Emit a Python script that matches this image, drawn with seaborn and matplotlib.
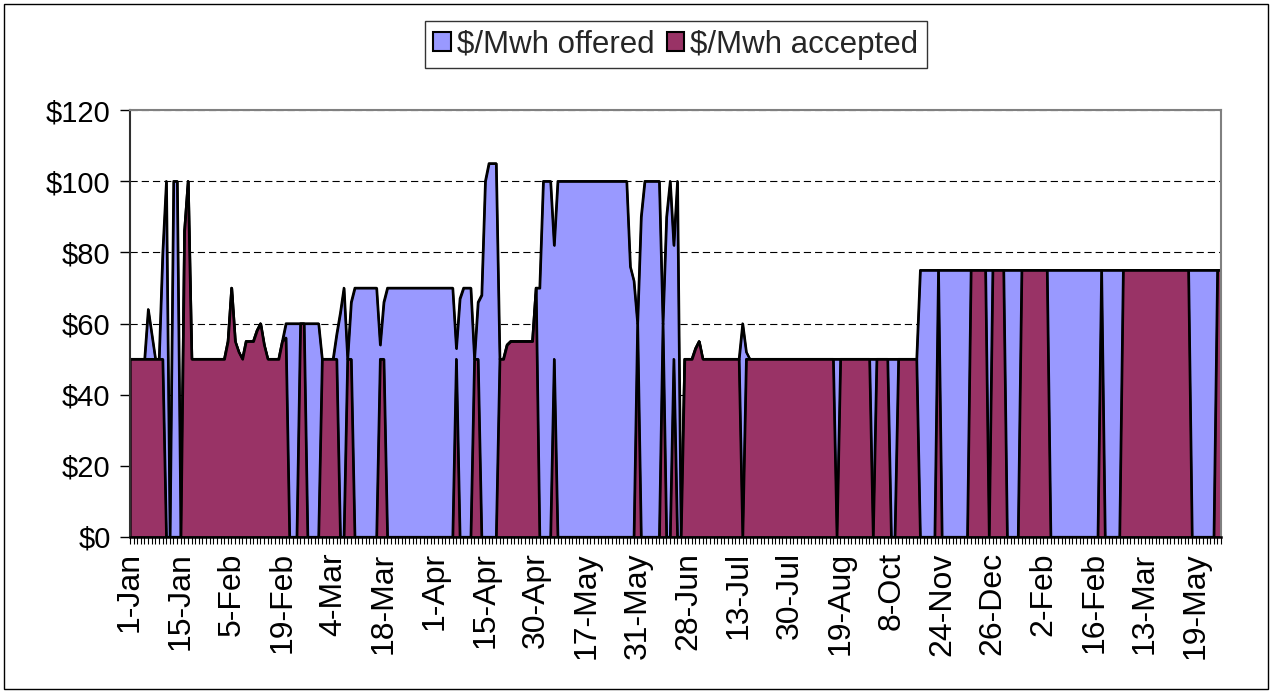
import matplotlib
matplotlib.use("Agg")
import matplotlib.pyplot as plt
from matplotlib.patches import Patch, Rectangle
import pandas as pd
import seaborn as sns

# category axis: one point per trading day, a label every 14 points
date_labels = ["1-Jan", "15-Jan", "5-Feb", "19-Feb", "4-Mar", "18-Mar", "1-Apr",
               "15-Apr", "30-Apr", "17-May", "31-May", "28-Jun", "13-Jul", "30-Jul",
               "19-Aug", "8-Oct", "24-Nov", "26-Dec", "2-Feb", "16-Feb", "13-Mar",
               "19-May"]
label_step = 14

# $/Mwh offered
offered = [
    50, 50, 50, 50, 50, 64, 57, 50, 50, 80,
    100, 0, 100, 100, 0, 86, 100, 50, 50, 50,
    50, 50, 50, 50, 50, 50, 50, 55, 70, 55,
    52, 50, 55, 55, 55, 58, 60, 54, 50, 50,
    50, 50, 55, 60, 60, 60, 60, 60, 60, 60,
    60, 60, 60, 50, 50, 50, 50, 57, 63, 70,
    50, 66, 70, 70, 70, 70, 70, 70, 70, 54,
    66, 70, 70, 70, 70, 70, 70, 70, 70, 70,
    70, 70, 70, 70, 70, 70, 70, 70, 70, 70,
    53, 67, 70, 70, 70, 50, 66, 68, 100, 105,
    105, 105, 50, 50, 54, 55, 55, 55, 55, 55,
    55, 55, 70, 70, 100, 100, 100, 82, 100, 100,
    100, 100, 100, 100, 100, 100, 100, 100, 100, 100,
    100, 100, 100, 100, 100, 100, 100, 100, 76, 72,
    60, 90, 100, 100, 100, 100, 100, 60, 90, 100,
    82, 100, 0, 50, 50, 50, 53, 55, 50, 50,
    50, 50, 50, 50, 50, 50, 50, 50, 50, 60,
    52, 50, 50, 50, 50, 50, 50, 50, 50, 50,
    50, 50, 50, 50, 50, 50, 50, 50, 50, 50,
    50, 50, 50, 50, 50, 50, 50, 50, 50, 50,
    50, 50, 50, 50, 50, 50, 50, 50, 50, 50,
    50, 50, 50, 50, 50, 50, 50, 50, 75, 75,
    75, 75, 75, 75, 75, 75, 75, 75, 75, 75,
    75, 75, 75, 75, 75, 75, 75, 75, 75, 75,
    75, 75, 75, 75, 75, 75, 75, 75, 75, 75,
    75, 75, 75, 75, 75, 75, 75, 75, 75, 75,
    75, 75, 75, 75, 75, 75, 75, 75, 75, 75,
    75, 75, 75, 75, 75, 75, 75, 75, 75, 75,
    75, 75, 75, 75, 75, 75, 75, 75, 75, 75,
    75, 75, 75, 75, 75, 75, 75, 75, 75, 75,
    75, 75,
]

# $/Mwh accepted
accepted = [
    50, 50, 50, 50, 50, 50, 50, 50, 50, 50,
    0, 0, 0, 0, 0, 86, 100, 50, 50, 50,
    50, 50, 50, 50, 50, 50, 50, 55, 70, 55,
    52, 50, 55, 55, 55, 58, 60, 54, 50, 50,
    50, 50, 55, 56, 0, 0, 0, 60, 60, 0,
    0, 0, 0, 50, 50, 50, 50, 50, 0, 0,
    50, 50, 0, 0, 0, 0, 0, 0, 0, 50,
    50, 0, 0, 0, 0, 0, 0, 0, 0, 0,
    0, 0, 0, 0, 0, 0, 0, 0, 0, 0,
    50, 0, 0, 0, 0, 50, 50, 0, 0, 0,
    0, 0, 50, 50, 54, 55, 55, 55, 55, 55,
    55, 55, 70, 0, 0, 0, 0, 50, 0, 0,
    0, 0, 0, 0, 0, 0, 0, 0, 0, 0,
    0, 0, 0, 0, 0, 0, 0, 0, 0, 0,
    60, 0, 0, 0, 0, 0, 0, 60, 0, 0,
    50, 0, 0, 50, 50, 50, 53, 55, 50, 50,
    50, 50, 50, 50, 50, 50, 50, 50, 50, 0,
    50, 50, 50, 50, 50, 50, 50, 50, 50, 50,
    50, 50, 50, 50, 50, 50, 50, 50, 50, 50,
    50, 50, 50, 50, 50, 0, 50, 50, 50, 50,
    50, 50, 50, 50, 50, 0, 50, 50, 50, 50,
    0, 0, 50, 50, 50, 50, 50, 50, 0, 0,
    0, 0, 0, 75, 0, 0, 0, 0, 0, 0,
    0, 0, 75, 75, 75, 75, 75, 0, 75, 75,
    75, 75, 0, 0, 0, 0, 75, 75, 75, 75,
    75, 75, 75, 75, 0, 0, 0, 0, 0, 0,
    0, 0, 0, 0, 0, 0, 0, 0, 75, 0,
    0, 0, 0, 0, 75, 75, 75, 75, 75, 75,
    75, 75, 75, 75, 75, 75, 75, 75, 75, 75,
    75, 75, 75, 0, 0, 0, 0, 0, 0, 0,
    75, 75,
]

y_ticks = [0, 20, 40, 60, 80, 100, 120]

OFFER_COLOR = "#9999FF"
ACCEPT_COLOR = "#993366"

df = pd.DataFrame({"day": range(len(offered)), "offered": offered, "accepted": accepted})

sns.set_theme(style="white")
plt.rcParams["font.family"] = ["Liberation Sans", "DejaVu Sans"]

W, H = 1272, 693
fig = plt.figure(figsize=(W / 100, H / 100), dpi=100)
ax = fig.add_axes([130 / W, 1 - 537 / H, (1221 - 130) / W, (537 - 110) / H])

# offered drawn first, accepted laid over it (Excel-style overlapping areas)
ax.fill_between(df["day"], 0, df["offered"], facecolor=OFFER_COLOR,
                edgecolor="black", linewidth=1.6, zorder=2)
sns.lineplot(data=df, x="day", y="offered", color="black", linewidth=1.6,
             ax=ax, zorder=3)
ax.fill_between(df["day"], 0, df["accepted"], facecolor=ACCEPT_COLOR,
                edgecolor="black", linewidth=1.6, zorder=4)
sns.lineplot(data=df, x="day", y="accepted", color="black", linewidth=1.6,
             ax=ax, zorder=5)

ax.set_xlim(0, len(df) - 1)
ax.set_ylim(0, 120)
ax.set_xlabel("")
ax.set_ylabel("")

# every day gets a tick, only every 14th one a label
x_labels = [""] * len(df)
for i, lab in enumerate(date_labels):
    x_labels[i * label_step] = lab
ax.set_xticks(df["day"])
ax.set_xticklabels(x_labels, rotation=90, ha="center", va="top")
ax.set_yticks(y_ticks)
ax.set_yticklabels([f"${v}" for v in y_ticks])

ax.tick_params(axis="x", bottom=True, length=5, width=0.8, color="black",
               pad=6, labelsize=23, labelcolor="black")
ax.tick_params(axis="y", left=True, length=7, width=1, color="black",
               pad=7, labelsize=21, labelcolor="black")

ax.set_axisbelow(True)
ax.yaxis.grid(True, color="black", linestyle=(0, (6.5, 3.6)), linewidth=0.8)
ax.xaxis.grid(False)

for side in ["top", "right"]:
    ax.spines[side].set_color("#808080")
    ax.spines[side].set_linewidth(1.5)
ax.spines["left"].set_color("#303030")
ax.spines["left"].set_linewidth(1.5)
ax.spines["bottom"].set_color("black")
ax.spines["bottom"].set_linewidth(1.8)
for s in ax.spines.values():
    s.set_zorder(6)

handles = [Patch(facecolor=OFFER_COLOR, edgecolor="black", linewidth=1.5,
                 label="$/Mwh offered"),
           Patch(facecolor=ACCEPT_COLOR, edgecolor="black", linewidth=1.5,
                 label="$/Mwh accepted")]
leg = fig.legend(handles=handles, loc="center", bbox_to_anchor=(676 / W, 1 - 44.5 / H),
                 ncol=2, frameon=True, fancybox=False, fontsize=22.5,
                 handlelength=0.55, handleheight=0.55, handletextpad=0.2,
                 columnspacing=0.4, borderpad=0.28, borderaxespad=0)
leg.get_frame().set_edgecolor("black")
leg.get_frame().set_linewidth(1)

# thin border round the whole chart area
fig.patches.append(Rectangle((4 / W, 4 / H), (W - 8) / W, (H - 8) / H,
                             transform=fig.transFigure, fill=False,
                             edgecolor="black", linewidth=1))

fig.savefig("out.png", dpi=100)
